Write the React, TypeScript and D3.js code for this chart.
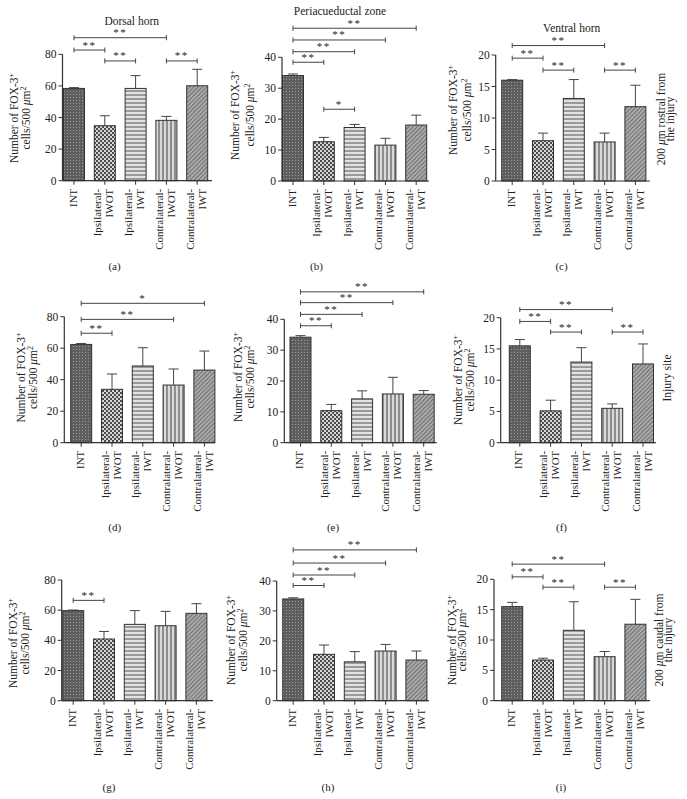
import React from "react";
import * as d3 from "d3";

const categories = ["INT", "Ipsilateral-IWOT", "Ipsilateral-IWT", "Contralateral-IWOT", "Contralateral-IWT"];

const ticks80 = [0, 20, 40, 60, 80];
const ticks40 = [0, 10, 20, 30, 40];
const ticks20 = [0, 5, 10, 15, 20];

// means and SEM (upper error) per panel
const meansA = [58.4, 34.8, 58.4, 38.2, 60.1];
const errsA = [0.5, 6.3, 8.1, 2.5, 10.4];
const meansB = [34.1, 12.7, 17.3, 11.6, 18.1];
const errsB = [0.5, 1.4, 1.0, 2.2, 3.2];
const meansC = [16.0, 6.4, 13.1, 6.2, 11.8];
const errsC = [0.1, 1.2, 3.0, 1.4, 3.4];
const meansD = [62.4, 33.9, 48.7, 36.6, 46.1];
const errsD = [0.6, 9.7, 11.6, 10.2, 12.1];
const meansE = [34.2, 10.4, 14.2, 15.8, 15.7];
const errsE = [0.5, 2.0, 2.6, 5.4, 1.2];
const meansF = [15.5, 5.1, 12.9, 5.5, 12.6];
const errsF = [1.0, 1.7, 2.3, 0.7, 3.2];
const meansG = [59.7, 40.9, 50.6, 49.7, 57.9];
const errsG = [0.4, 5.0, 9.1, 9.5, 6.4];
const meansH = [34.0, 15.5, 13.0, 16.6, 13.6];
const errsH = [0.4, 3.1, 3.4, 2.2, 3.0];
const meansI = [15.5, 6.7, 11.6, 7.25, 12.6];
const errsI = [0.7, 0.3, 4.7, 0.85, 4.1];

// significance brackets: [from, to, label, level (data units)]
const bracketsA: [number, number, string, number][] = [[0, 3, "**", 90.5], [0, 1, "**", 82.7], [1, 2, "**", 75.8], [3, 4, "**", 75.8]];
const bracketsB: [number, number, string, number][] = [[0, 4, "**", 49.4], [0, 3, "**", 45.6], [0, 2, "**", 41.8], [0, 1, "**", 38.4], [1, 2, "*", 23.2]];
const bracketsC: [number, number, string, number][] = [[0, 3, "**", 21.5], [0, 1, "**", 19.5], [1, 2, "**", 17.6], [3, 4, "**", 17.6]];
const bracketsD: [number, number, string, number][] = [[0, 4, "*", 88.5], [0, 3, "**", 78.3], [0, 1, "**", 69.5]];
const bracketsE: [number, number, string, number][] = [[0, 4, "**", 48.9], [0, 3, "**", 45.4], [0, 2, "**", 41.6], [0, 1, "**", 37.9]];
const bracketsF: [number, number, string, number][] = [[0, 3, "**", 21.3], [0, 1, "**", 19.4], [1, 2, "**", 17.7], [3, 4, "**", 17.7]];
const bracketsG: [number, number, string, number][] = [[0, 1, "**", 66.5]];
const bracketsH: [number, number, string, number][] = [[0, 4, "**", 50.4], [0, 3, "**", 46.0], [0, 2, "**", 42.0], [0, 1, "**", 38.5]];
const bracketsI: [number, number, string, number][] = [[0, 3, "**", 22.5], [0, 1, "**", 20.4], [1, 2, "**", 18.7], [3, 4, "**", 18.7]];

const panelLetters = ["(a)", "(b)", "(c)", "(d)", "(e)", "(f)", "(g)", "(h)", "(i)"];
const titles = ["Dorsal horn", "Periacueductal zone", "Ventral horn"];
const sideLabels = [["200 μm rostral from", "the injury"], ["Injury site"], ["200 μm caudal from", "the injury"]];

const FONT = "'Liberation Serif', 'Times New Roman', serif";
const TXT = "#222";
const AX = "#333";
const patterns = ["pInt", "pDots", "pHor", "pVer", "pDiag"];

type Panel = {
  means: number[]; errs: number[]; ticks: number[]; brackets: [number, number, string, number][];
  axisX: number; barStart: number; y0: number; yTop: number; xEnd: number;
  yl1: number; yl2: number; ylY: number; letter: string; lx: number; ly: number;
};

const layout = [
  { axisX: 62.5, barStart: 63.5, y0: 180.7, yTop: 54.3, xEnd: 212, yl1: 14, yl2: 25.5, ylY: 118, lx: 114.5, ly: 266 },
  { axisX: 282, barStart: 282.5, y0: 181, yTop: 57.3, xEnd: 429, yl1: 234.5, yl2: 249.5, ylY: 115, lx: 316.5, ly: 266 },
  { axisX: 495.7, barStart: 501.7, y0: 181, yTop: 55, xEnd: 650, yl1: 453, yl2: 466.5, ylY: 110, lx: 561.5, ly: 266 },
  { axisX: 64.3, barStart: 70.7, y0: 442.7, yTop: 316.7, xEnd: 215, yl1: 21, yl2: 33, ylY: 377.5, lx: 114.7, ly: 527.5 },
  { axisX: 284.3, barStart: 290, y0: 442.7, yTop: 319.3, xEnd: 436.7, yl1: 238.3, yl2: 250, ylY: 377, lx: 333, ly: 527.5 },
  { axisX: 500.7, barStart: 509.3, y0: 442.7, yTop: 317.7, xEnd: 656, yl1: 458.3, yl2: 470, ylY: 380, lx: 561.5, ly: 527.5 },
  { axisX: 61.7, barStart: 62.7, y0: 700.7, yTop: 580, xEnd: 213, yl1: 13.3, yl2: 25, ylY: 643, lx: 109, ly: 786.7 },
  { axisX: 276.7, barStart: 282.7, y0: 700.7, yTop: 581, xEnd: 429, yl1: 231, yl2: 243.3, ylY: 640, lx: 328, ly: 786.7 },
  { axisX: 494, barStart: 501.7, y0: 700.7, yTop: 579.3, xEnd: 650, yl1: 452, yl2: 461.7, ylY: 640, lx: 561, ly: 786.7 },
];

const dataSets = [
  [meansA, errsA, ticks80, bracketsA], [meansB, errsB, ticks40, bracketsB], [meansC, errsC, ticks20, bracketsC],
  [meansD, errsD, ticks80, bracketsD], [meansE, errsE, ticks40, bracketsE], [meansF, errsF, ticks20, bracketsF],
  [meansG, errsG, ticks80, bracketsG], [meansH, errsH, ticks40, bracketsH], [meansI, errsI, ticks20, bracketsI],
] as const;

const panels: Panel[] = layout.map((l, i) => ({
  ...l,
  means: dataSets[i][0] as number[],
  errs: dataSets[i][1] as number[],
  ticks: dataSets[i][2] as number[],
  brackets: dataSets[i][3] as [number, number, string, number][],
  letter: panelLetters[i],
}));

const BW = 21;
const STEP = 30.8;

function PanelView({ p }: { p: Panel }) {
  const x = d3.scaleBand<string>().domain(categories)
    .range([p.barStart, p.barStart + 4 * STEP + BW]).paddingInner((STEP - BW) / STEP).paddingOuter(0);
  const yMax = p.ticks[p.ticks.length - 1];
  const y = d3.scaleLinear().domain([0, yMax]).range([p.y0, p.yTop]);
  const cx = (c: string) => (x(c) as number) + x.bandwidth() / 2;
  return (
    <g>
      {categories.map((c, i) => (
        <g key={c}>
          <rect x={x(c)} y={y(p.means[i])} width={x.bandwidth()} height={p.y0 - y(p.means[i])}
            fill={`url(#${patterns[i]})`} stroke="#333" strokeWidth={1} />
          <line x1={cx(c)} x2={cx(c)} y1={y(p.means[i])} y2={y(p.means[i] + p.errs[i])} stroke="#444" strokeWidth={1} />
          <line x1={cx(c) - 5} x2={cx(c) + 5} y1={y(p.means[i] + p.errs[i])} y2={y(p.means[i] + p.errs[i])} stroke="#444" strokeWidth={1} />
        </g>
      ))}
      {/* axes */}
      <line x1={p.axisX} x2={p.axisX} y1={p.y0} y2={y(yMax)} stroke={AX} strokeWidth={1.2} />
      <line x1={p.axisX} x2={p.xEnd} y1={p.y0} y2={p.y0} stroke={AX} strokeWidth={1.2} />
      {p.ticks.map((t) => (
        <g key={t}>
          <line x1={p.axisX - 4} x2={p.axisX} y1={y(t)} y2={y(t)} stroke={AX} strokeWidth={1} />
          <text x={p.axisX - 6} y={y(t)} dy="0.35em" textAnchor="end" fontSize={11.5} fill={TXT}>{t}</text>
        </g>
      ))}
      {categories.map((c) => {
        const parts = c.includes("-") ? [c.split("-")[0] + "-", c.split("-")[1]] : [c];
        const offs = parts.length === 1 ? [2.5] : [-3.5, 8.5];
        return (
          <g key={"t" + c}>
            <line x1={cx(c)} x2={cx(c)} y1={p.y0} y2={p.y0 + 4} stroke={AX} strokeWidth={1} />
            <g transform={`translate(${cx(c)},${p.y0 + 8}) rotate(-90)`}>
              {parts.map((s, k) => (
                <text key={k} x={0} y={offs[k]} textAnchor="end" fontSize={11} fill={TXT}>{s}</text>
              ))}
            </g>
          </g>
        );
      })}
      {/* brackets */}
      {p.brackets.map(([a, b, lab, lev], k) => {
        const x1 = cx(categories[a]);
        const x2 = cx(categories[b]);
        const yy = y(lev);
        return (
          <g key={"b" + k}>
            <line x1={x1} x2={x2} y1={yy} y2={yy} stroke="#444" strokeWidth={1} />
            <line x1={x1} x2={x1} y1={yy - 2.5} y2={yy + 2.5} stroke="#444" strokeWidth={1} />
            <line x1={x2} x2={x2} y1={yy - 2.5} y2={yy + 2.5} stroke="#444" strokeWidth={1} />
            <text x={(x1 + x2) / 2} y={yy - 1.5} textAnchor="middle" fontSize={11} letterSpacing={1.5} fill={TXT}>{lab}</text>
          </g>
        );
      })}
      {/* y label */}
      <g transform={`translate(${p.yl1},${p.ylY}) rotate(-90)`}>
        <text x={0} y={0} dy="0.35em" textAnchor="middle" fontSize={11.5} fill={TXT}>
          Number of FOX-3<tspan dy={-4} fontSize={8}>+</tspan>
        </text>
      </g>
      <g transform={`translate(${p.yl2},${p.ylY}) rotate(-90)`}>
        <text x={0} y={0} dy="0.35em" textAnchor="middle" fontSize={11.5} fill={TXT}>
          cells/500 <tspan fontStyle="italic">μ</tspan>m<tspan dy={-4} fontSize={8}>2</tspan>
        </text>
      </g>
      <text x={p.lx} y={p.ly} dy="0.35em" textAnchor="middle" fontSize={11} fill={TXT}>{p.letter}</text>
    </g>
  );
}

export default function App() {
  const titlePos = [[131.7, 20.7], [340, 11.2], [571.7, 28.3]];
  const sidePos = [[[660.7, 670], 119], [[666.7], 378], [[659.3, 668.3], 640]] as [number[], number][];
  return (
    <svg width={687} height={799} style={{ position: "absolute", left: 0, top: 0, background: "#fff" }} fontFamily={FONT}>
      <defs>
        <pattern id="pInt" width={3} height={3} patternUnits="userSpaceOnUse">
          <rect width={3} height={3} fill="#5e5e5e" />
          <rect x={1} y={1} width={1} height={1} fill="#9a9a9a" />
        </pattern>
        <pattern id="pDots" width={4} height={4} patternUnits="userSpaceOnUse">
          <rect width={4} height={4} fill="#d6d6d6" />
          <rect x={0} y={0} width={2} height={2} fill="#4a4a4a" />
          <rect x={2} y={2} width={2} height={2} fill="#4a4a4a" />
        </pattern>
        <pattern id="pHor" width={4} height={4} patternUnits="userSpaceOnUse">
          <rect width={4} height={4} fill="#e2e2e2" />
          <rect x={0} y={2} width={4} height={2} fill="#9a9a9a" />
        </pattern>
        <pattern id="pVer" width={4} height={4} patternUnits="userSpaceOnUse">
          <rect width={4} height={4} fill="#dadada" />
          <rect x={2} y={0} width={2} height={4} fill="#8e8e8e" />
        </pattern>
        <pattern id="pDiag" width={3} height={3} patternUnits="userSpaceOnUse" patternTransform="rotate(45)">
          <rect width={3} height={3} fill="#b0b0b0" />
          <rect x={0} y={0} width={1.2} height={3} fill="#707070" />
        </pattern>
      </defs>
      {panels.map((p, i) => <PanelView key={i} p={p} />)}
      {titles.map((t, i) => (
        <text key={t} x={titlePos[i][0]} y={titlePos[i][1]} dy="0.35em" textAnchor="middle" fontSize={11.5} fill={TXT}>{t}</text>
      ))}
      {sideLabels.map((lines, i) => (
        <g key={i}>
          {lines.map((s, k) => (
            <g key={k} transform={`translate(${sidePos[i][0][k]},${sidePos[i][1]}) rotate(-90)`}>
              <text x={0} y={0} dy="0.35em" textAnchor="middle" fontSize={11.5} fill={TXT}>
                {s.includes("μ") ? (<>{s.split("μ")[0]}<tspan fontStyle="italic">μ</tspan>{s.split("μ")[1]}</>) : s}
              </text>
            </g>
          ))}
        </g>
      ))}
    </svg>
  );
}
